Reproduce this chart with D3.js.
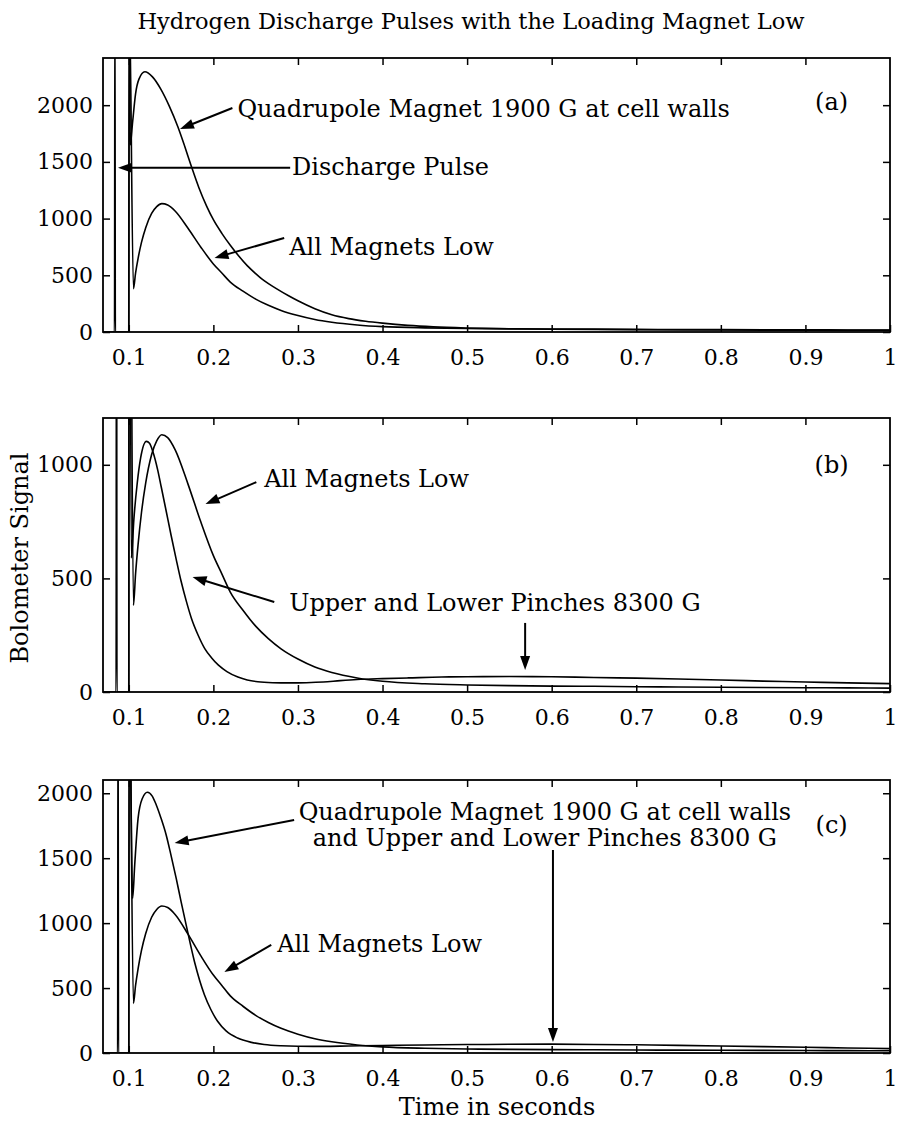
<!DOCTYPE html>
<html>
<head>
<meta charset="utf-8">
<script src="https://cdn.jsdelivr.net/npm/d3@7"></script>
<style>
body { margin: 0; background: #fff; }
</style>
</head>
<body>
<script>
// tick labels
var xTicks = [0.1, 0.2, 0.3, 0.4, 0.5, 0.6, 0.7, 0.8, 0.9, 1]
var yTicksA = [0, 500, 1000, 1500, 2000]
var yTicksB = [0, 500, 1000]
var yTicksC = [0, 500, 1000, 1500, 2000]

// discharge pulse at the start of each shot, [time, signal]
var pulseA = [[0.0695, 0], [0.0831, 0], [0.0836, 3000], [0.0841, 0], [0.1000, 0]]
var pulseB = [[0.0695, 0], [0.0850, 0], [0.0855, 3000], [0.0860, 0], [0.1000, 0]]
var pulseC = [[0.0695, 0], [0.0868, 0], [0.0873, 3000], [0.0878, 0], [0.1000, 0]]

// All Magnets Low (same shot drawn in every panel)
var allLow = [[0.1000, 0], [0.1005, 3000], [0.1055, 382], [0.108, 520], [0.111, 650], [0.115, 790],
  [0.120, 920], [0.127, 1045], [0.133, 1105], [0.139, 1132], [0.146, 1120], [0.155, 1065],
  [0.170, 915], [0.185, 750], [0.200, 600], [0.210, 520], [0.220, 440], [0.235, 360],
  [0.250, 290], [0.265, 235], [0.280, 190], [0.300, 145], [0.320, 110], [0.340, 86],
  [0.370, 62], [0.400, 47], [0.450, 36], [0.500, 31], [0.550, 28], [0.600, 26], [0.650, 25],
  [0.700, 23], [0.750, 22], [0.800, 21], [0.850, 20], [0.900, 19], [0.950, 18], [1.000, 17]]

// Quadrupole Magnet 1900 G at cell walls
var quadA = [[0.1000, 0], [0.1005, 3000], [0.1017, 1650], [0.1045, 1850], [0.108, 2100],
  [0.112, 2230], [0.119, 2295], [0.128, 2250], [0.138, 2140], [0.148, 1990], [0.158, 1810],
  [0.166, 1640], [0.174, 1460], [0.183, 1270], [0.192, 1110], [0.200, 990], [0.210, 870],
  [0.220, 765], [0.230, 670], [0.240, 585], [0.250, 515], [0.260, 452], [0.274, 385],
  [0.290, 315], [0.300, 275], [0.320, 205], [0.340, 152], [0.360, 118], [0.380, 95],
  [0.400, 78], [0.430, 58], [0.460, 45], [0.500, 35], [0.550, 28], [0.600, 24], [0.700, 20],
  [0.800, 18], [0.900, 15], [1.000, 14]]

// Upper and Lower Pinches 8300 G
var pinchB = [[0.1000, 0], [0.1005, 3000], [0.1030, 590], [0.106, 760], [0.110, 920],
  [0.114, 1030], [0.1208, 1103], [0.1245, 1095], [0.1287, 1055], [0.134, 980], [0.1385, 900],
  [0.144, 800], [0.150, 690], [0.156, 585], [0.162, 485], [0.168, 400], [0.174, 325],
  [0.182, 250], [0.190, 190], [0.198, 150], [0.206, 118], [0.216, 90], [0.229, 66],
  [0.240, 53], [0.2525, 45], [0.270, 41], [0.290, 40], [0.310, 41], [0.330, 44], [0.350, 50],
  [0.370, 55], [0.400, 59], [0.430, 62], [0.470, 66], [0.500, 67], [0.550, 68], [0.600, 67],
  [0.650, 64], [0.700, 61], [0.750, 57], [0.800, 53], [0.850, 48], [0.900, 44], [0.950, 40],
  [1.000, 37]]

// Quadrupole 1900 G and Upper and Lower Pinches 8300 G
var quadPinchC = [[0.1000, 0], [0.1005, 3000], [0.1045, 1190], [0.107, 1450], [0.111, 1808],
  [0.116, 1960], [0.122, 2008], [0.1275, 1980], [0.1325, 1910], [0.138, 1810], [0.1442, 1679],
  [0.150, 1520], [0.156, 1346], [0.162, 1160], [0.1678, 987], [0.1776, 705], [0.1894, 449],
  [0.197, 335], [0.205, 244], [0.215, 170], [0.2286, 115], [0.245, 82], [0.260, 66],
  [0.280, 56], [0.300, 52], [0.330, 51], [0.360, 54], [0.400, 58], [0.450, 62], [0.500, 65],
  [0.550, 67], [0.600, 68], [0.650, 66], [0.700, 63], [0.750, 59], [0.800, 54], [0.850, 49],
  [0.900, 44], [0.950, 39], [1.000, 34]]

var svgWidth = 900
var svgHeight = 1123
var plotLeft = 103
var plotRight = 890
var fontSize = 24
var tickFont = 22

var svg = d3.select('body').append('svg')
    .attr('width', svgWidth)
    .attr('height', svgHeight)
    .style('font-family', '"DejaVu Serif", serif')
    .style('font-size', fontSize + 'px')

var defs = svg.append('defs')

var xScale = d3.scaleLinear()
    .domain([0.0695, 1.0])
    .range([plotLeft, plotRight])

var line = d3.line()
    .x(function(d) { return xScale(d[0]) })
    .y(function(d) { return yScale(d[1]) })
    .curve(d3.curveMonotoneX)

var yScale // set per panel

function arrow(g, x1, y1, x2, y2) {
  var dx = x2 - x1, dy = y2 - y1
  var len = Math.sqrt(dx * dx + dy * dy)
  var ux = dx / len, uy = dy / len
  var headL = 14, headW = 5
  var bx = x2 - ux * headL, by = y2 - uy * headL
  g.append('line')
      .attr('x1', x1).attr('y1', y1)
      .attr('x2', bx + ux * 2).attr('y2', by + uy * 2)
      .attr('stroke', '#000').attr('stroke-width', 2)
  g.append('path')
      .attr('d', 'M' + x2 + ',' + y2 +
                 'L' + (bx - uy * headW) + ',' + (by + ux * headW) +
                 'L' + (bx + uy * headW) + ',' + (by - ux * headW) + 'Z')
      .attr('fill', '#000')
}

function drawPanel(p) {
  yScale = d3.scaleLinear()
      .domain([0, p.yMax])
      .range([p.bottom, p.top])

  var g = svg.append('g').attr('class', 'panel-' + p.id)

  defs.append('clipPath').attr('id', 'clip-' + p.id)
    .append('rect')
      .attr('x', plotLeft).attr('y', p.top)
      .attr('width', plotRight - plotLeft).attr('height', p.bottom - p.top)

  var curves = g.append('g').attr('clip-path', 'url(#clip-' + p.id + ')')
  p.series.forEach(function(s) {
    curves.append('path')
        .attr('d', line(s))
        .attr('fill', 'none')
        .attr('stroke', '#000')
        .attr('stroke-width', 1.6)
        .attr('stroke-linejoin', 'round')
  })

  var xAxis = d3.axisBottom(xScale).tickValues(xTicks)
      .tickFormat(function(d) { return String(d) })
      .tickSizeInner(-7).tickSizeOuter(0).tickPadding(17)
  var xAxisTop = d3.axisTop(xScale).tickValues(xTicks.slice(0, -1))
      .tickFormat('').tickSizeInner(-7).tickSizeOuter(0)
  var yAxis = d3.axisLeft(yScale).tickValues(p.yTicks)
      .tickFormat(function(d) { return String(d) })
      .tickSizeInner(-7).tickSizeOuter(0).tickPadding(10)
  var yAxisRight = d3.axisRight(yScale).tickValues(p.yTicks)
      .tickFormat('').tickSizeInner(-7).tickSizeOuter(0)

  var axes = [
    g.append('g').attr('transform', 'translate(0,' + p.bottom + ')').call(xAxis),
    g.append('g').attr('transform', 'translate(0,' + p.top + ')').call(xAxisTop),
    g.append('g').attr('transform', 'translate(' + plotLeft + ',0)').call(yAxis),
    g.append('g').attr('transform', 'translate(' + plotRight + ',0)').call(yAxisRight)
  ]
  axes.forEach(function(a) {
    a.select('.domain').remove()
    a.attr('font-family', null).attr('font-size', tickFont)
    a.selectAll('line').attr('stroke-width', 1.5)
    a.selectAll('text').attr('fill', '#000')
  })

  g.append('rect')
      .attr('x', plotLeft).attr('y', p.top)
      .attr('width', plotRight - plotLeft).attr('height', p.bottom - p.top)
      .attr('fill', 'none').attr('stroke', '#000').attr('stroke-width', 1.8)

  g.append('text')
      .attr('x', xScale(0.931)).attr('y', yScale(p.tagV))
      .attr('text-anchor', 'middle')
      .text('(' + p.id + ')')

  return g
}

function note(g, t, v, str, anchor) {
  g.append('text')
      .attr('x', xScale(t)).attr('y', yScale(v))
      .attr('text-anchor', anchor || 'start')
      .text(str)
}

function pointer(g, t1, v1, t2, v2) {
  arrow(g, xScale(t1), yScale(v1), xScale(t2), yScale(v2))
}

// title
svg.append('text')
    .attr('x', 471).attr('y', 29)
    .attr('text-anchor', 'middle')
    .style('font-size', '22.5px')
    .text('Hydrogen Discharge Pulses with the Loading Magnet Low')

// panel (a)
var ga = drawPanel({id: 'a', top: 58, bottom: 332, yMax: 2416, yTicks: yTicksA,
                    tagV: 1958, series: [pulseA, allLow, quadA]})
note(ga, 0.2284, 1896, 'Quadrupole Magnet 1900 G at cell walls')
pointer(ga, 0.2225, 1975, 0.1605, 1790)
note(ga, 0.2931, 1384, 'Discharge Pulse')
pointer(ga, 0.2908, 1449, 0.0872, 1449)
note(ga, 0.2896, 679, 'All Magnets Low')
pointer(ga, 0.2837, 829, 0.2013, 653)

// panel (b)
var gb = drawPanel({id: 'b', top: 418, bottom: 692, yMax: 1206, yTicks: yTicksB,
                    tagV: 964, series: [pulseB, allLow, pinchB]})
note(gb, 0.2602, 902, 'All Magnets Low')
pointer(gb, 0.2508, 924, 0.1907, 827)
note(gb, 0.2896, 356, 'Upper and Lower Pinches 8300 G')
pointer(gb, 0.272, 396, 0.1754, 506)
pointer(gb, 0.5686, 304, 0.5686, 97)

// panel (c)
var gc = drawPanel({id: 'c', top: 780, bottom: 1053, yMax: 2102, yTicks: yTicksC,
                    tagV: 1694, series: [pulseC, allLow, quadPinchC]})
note(gc, 0.592, 1794, 'Quadrupole Magnet 1900 G at cell walls', 'middle')
note(gc, 0.592, 1594, 'and Upper and Lower Pinches 8300 G', 'middle')
pointer(gc, 0.2955, 1794, 0.1542, 1617)
note(gc, 0.2755, 778, 'All Magnets Low')
pointer(gc, 0.2684, 832, 0.213, 624)
pointer(gc, 0.6015, 1563, 0.6015, 85)

// axis titles
svg.append('text')
    .attr('x', 497).attr('y', 1115)
    .attr('text-anchor', 'middle')
    .text('Time in seconds')

svg.append('text')
    .attr('transform', 'translate(28,558) rotate(-90)')
    .attr('text-anchor', 'middle')
    .text('Bolometer Signal')
</script>
</body>
</html>
